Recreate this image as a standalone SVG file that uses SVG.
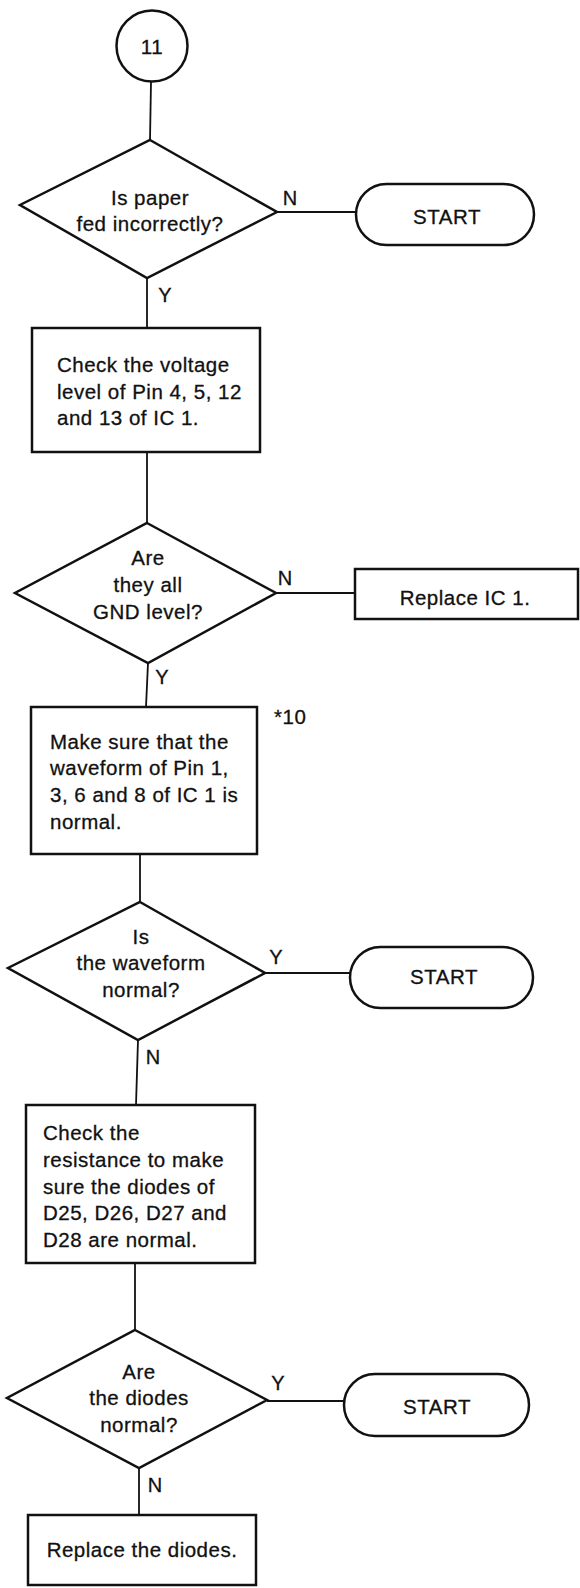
<svg xmlns="http://www.w3.org/2000/svg" width="580" height="1588" viewBox="0 0 580 1588">
<style>
.s{fill:none;stroke:#111;stroke-width:2.5;stroke-linejoin:miter}
.c{fill:none;stroke:#111;stroke-width:1.8}
.t{font-family:"Liberation Sans",Arial,sans-serif;font-size:20.5px;letter-spacing:0.5px;fill:#111;stroke:#111;stroke-width:0.3}
.m{text-anchor:middle}
.l{font-family:"Liberation Sans",Arial,sans-serif;font-size:20px;fill:#111;stroke:#111;stroke-width:0.3;text-anchor:middle}
</style>
<rect width="580" height="1588" fill="#fff"/>
<g id="connectors">
<line class="c" x1="151" y1="82" x2="150" y2="140"/>
<line class="c" x1="277" y1="212" x2="356" y2="212"/>
<line class="c" x1="147" y1="278" x2="147" y2="328"/>
<line class="c" x1="147" y1="452" x2="147" y2="523"/>
<line class="c" x1="276" y1="593" x2="355" y2="593"/>
<line class="c" x1="148" y1="663" x2="146" y2="707"/>
<line class="c" x1="140" y1="854" x2="140" y2="902"/>
<line class="c" x1="265" y1="973" x2="350" y2="973"/>
<line class="c" x1="138" y1="1040" x2="136" y2="1105"/>
<line class="c" x1="135" y1="1263" x2="135" y2="1330"/>
<line class="c" x1="267" y1="1401" x2="344" y2="1401"/>
<line class="c" x1="139" y1="1468" x2="139" y2="1515"/>
<text class="l" x="290" y="205">N</text>
<text class="l" x="165" y="302">Y</text>
<text class="l" x="285" y="585">N</text>
<text class="l" x="162" y="684">Y</text>
<text class="l" x="276" y="964">Y</text>
<text class="l" x="153" y="1064">N</text>
<text class="l" x="278" y="1390">Y</text>
<text class="l" x="155" y="1492">N</text>
</g>
<g id="n11">
<circle class="s" cx="152" cy="46" r="35.5"/>
<text class="t m" x="152" y="54">11</text>
</g>
<g id="d1">
<polygon class="s" points="150,140 277,212 147,278 20,205"/>
<text class="t m" x="150" y="205">Is paper</text>
<text class="t m" x="150" y="231">fed incorrectly?</text>
</g>
<g id="start1">
<rect class="s" x="356" y="184" width="178" height="61" rx="30.5"/>
<text class="t m" x="447" y="224">START</text>
</g>
<g id="b1">
<rect class="s" x="32" y="328" width="228" height="124"/>
<text class="t" x="57" y="372">Check the voltage</text>
<text class="t" x="57" y="399">level of Pin 4, 5, 12</text>
<text class="t" x="57" y="425">and 13 of IC 1.</text>
</g>
<g id="d2">
<polygon class="s" points="147,523 276,593 148,663 15,593"/>
<text class="t m" x="148" y="565">Are</text>
<text class="t m" x="148" y="592">they all</text>
<text class="t m" x="148" y="619">GND level?</text>
</g>
<g id="r1">
<rect class="s" x="355" y="569" width="223" height="50"/>
<text class="t m" x="465" y="605">Replace IC 1.</text>
</g>
<g id="b2">
<rect class="s" x="31" y="707" width="226" height="147"/>
<text class="t" x="50" y="749">Make sure that the</text>
<text class="t" x="50" y="775">waveform of Pin 1,</text>
<text class="t" x="50" y="802">3, 6 and 8 of IC 1 is</text>
<text class="t" x="50" y="829">normal.</text>
<text class="t" x="274" y="724">*10</text>
</g>
<g id="d3">
<polygon class="s" points="140,902 265,973 138,1040 8,968"/>
<text class="t m" x="141" y="944">Is</text>
<text class="t m" x="141" y="970">the waveform</text>
<text class="t m" x="141" y="997">normal?</text>
</g>
<g id="start2">
<rect class="s" x="350" y="947" width="183" height="61" rx="30.5"/>
<text class="t m" x="444" y="984">START</text>
</g>
<g id="b3">
<rect class="s" x="26" y="1105" width="229" height="158"/>
<text class="t" x="43" y="1140">Check the</text>
<text class="t" x="43" y="1167">resistance to make</text>
<text class="t" x="43" y="1194">sure the diodes of</text>
<text class="t" x="43" y="1220">D25, D26, D27 and</text>
<text class="t" x="43" y="1247">D28 are normal.</text>
</g>
<g id="d4">
<polygon class="s" points="135,1330 267,1400 139,1468 7,1398"/>
<text class="t m" x="139" y="1379">Are</text>
<text class="t m" x="139" y="1405">the diodes</text>
<text class="t m" x="139" y="1432">normal?</text>
</g>
<g id="start3">
<rect class="s" x="344" y="1374" width="185" height="62" rx="31"/>
<text class="t m" x="437" y="1414">START</text>
</g>
<g id="b4">
<rect class="s" x="28" y="1515" width="228" height="70"/>
<text class="t m" x="142" y="1557">Replace the diodes.</text>
</g>
</svg>
